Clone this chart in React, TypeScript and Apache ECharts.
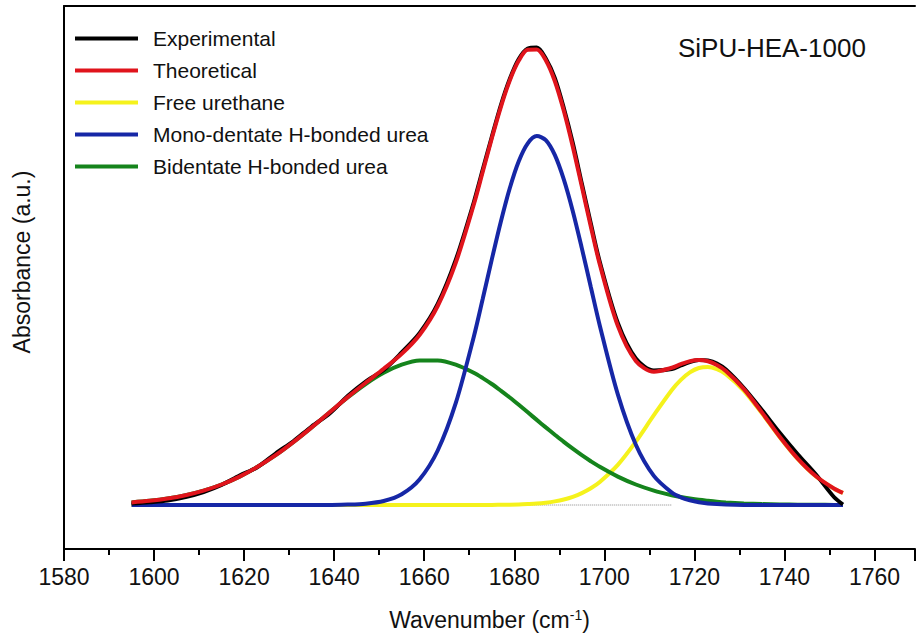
import React, { useEffect, useRef } from 'react';
import * as echarts from 'echarts';

const wavenumbers = [
  1595, 1599, 1603, 1607, 1611, 1615, 1619, 1623, 1627, 1631, 1635, 1639, 1643, 1647, 1651, 1655, 1659, 1663, 1667, 1671,
  1673, 1675, 1677, 1679, 1681, 1683, 1685, 1687, 1689, 1691, 1693, 1695, 1697, 1699,
  1703, 1707, 1711, 1715,
  1717, 1719, 1721, 1723, 1725, 1727,
  1731, 1735, 1739, 1743, 1747, 1751, 1753,
];

const experimental = [
  0.015, 0.028, 0.045, 0.080, 0.130, 0.200, 0.295, 0.380, 0.515, 0.640, 0.785, 0.915, 1.090, 1.235, 1.350, 1.525, 1.720, 2.010, 2.450, 3.025,
  3.355, 3.680, 3.995, 4.260, 4.460, 4.565, 4.575, 4.465, 4.270, 3.970, 3.620, 3.215, 2.815, 2.430,
  1.820, 1.465, 1.345, 1.360,
  1.395, 1.430, 1.450, 1.445, 1.415, 1.355,
  1.170, 0.950, 0.720, 0.505, 0.305, 0.080, 0.005,
];

const theoretical = [
  0.026, 0.042, 0.065, 0.098, 0.144, 0.205, 0.284, 0.382, 0.498, 0.631, 0.776, 0.928, 1.079, 1.223, 1.362, 1.511, 1.703, 1.990, 2.421, 3.002,
  3.332, 3.665, 3.977, 4.245, 4.444, 4.552, 4.554, 4.448, 4.240, 3.942, 3.583, 3.186, 2.785, 2.405,
  1.791, 1.441, 1.333, 1.372,
  1.408, 1.438, 1.449, 1.437, 1.400, 1.340,
  1.159, 0.926, 0.680, 0.461, 0.287, 0.165, 0.121,
];

const freeUrethane = [
  0, 0, 0, 0, 0, 0, 0, 0, 0, 0, 0, 0, 0, 0, 0, 0, 0, 0, 0, 0,
  0.001, 0.001, 0.002, 0.003, 0.005, 0.009, 0.014, 0.023, 0.036, 0.055, 0.082, 0.119, 0.167, 0.230,
  0.401, 0.633, 0.898, 1.150,
  1.251, 1.326, 1.370, 1.380, 1.358, 1.309,
  1.142, 0.916, 0.675, 0.458, 0.285, 0.164, 0.120,
];

const monoUrea = [
  0, 0, 0, 0, 0, 0, 0, 0, 0, 0, 0, 0.001, 0.004, 0.013, 0.040, 0.108, 0.258, 0.545, 1.018, 1.680,
  2.062, 2.454, 2.831, 3.167, 3.437, 3.616, 3.689, 3.649, 3.501, 3.256, 2.938, 2.569, 2.180, 1.793,
  1.106, 0.603, 0.291, 0.124,
  0.077, 0.047, 0.027, 0.016, 0.009, 0.005,
  0.001, 0, 0, 0, 0, 0, 0,
];

const bidentateUrea = [
  0.026, 0.042, 0.065, 0.098, 0.144, 0.205, 0.284, 0.382, 0.498, 0.631, 0.776, 0.927, 1.075, 1.210, 1.322, 1.403, 1.445, 1.445, 1.403, 1.322,
  1.269, 1.210, 1.144, 1.075, 1.002, 0.927, 0.851, 0.776, 0.703, 0.631, 0.563, 0.498, 0.438, 0.382,
  0.284, 0.205, 0.144, 0.098,
  0.080, 0.065, 0.052, 0.042, 0.033, 0.026,
  0.016, 0.009, 0.005, 0.003, 0.002, 0.001, 0.001,
];

const baselineDotsX = [1680, 1715];
const baselineDotsY = [0, 0];

const seriesNames = ['Experimental', 'Theoretical', 'Free urethane', 'Mono-dentate H-bonded urea', 'Bidentate H-bonded urea'];
const xMin = 1580;
const xMax = 1769;
const xMajorStep = 20;
const xMinorStep = 10;

const FONT = "'Liberation Sans', Arial, Helvetica, sans-serif";

function pairs(ys: number[]) {
  return wavenumbers.map((x, i) => [x, ys[i]]);
}

export default function App() {
  const ref = useRef<HTMLDivElement>(null);
  useEffect(() => {
    const chart = echarts.init(ref.current!, null, { renderer: 'svg' });
    const mk = (name: string, data: number[], color: string, z: number) => ({
      name,
      type: 'line',
      xAxisIndex: 0,
      data: pairs(data),
      showSymbol: false,
      symbol: 'none',
      smooth: 0.3,
      z,
      lineStyle: { color, width: 4 },
      itemStyle: { color },
      emphasis: { disabled: true },
    });
    const option: any = {
      animation: false,
      backgroundColor: '#ffffff',
      grid: { left: 64, right: 0, top: 6, bottom: 95, containLabel: false },
      legend: {
        orient: 'vertical',
        left: 70,
        top: 23,
        itemWidth: 63,
        itemHeight: 4,
        itemGap: 11,
        icon: 'rect',
        data: seriesNames,
        textStyle: { fontFamily: FONT, fontSize: 21, color: '#111', padding: [0, 0, 0, 10] },
      },
      xAxis: [
        {
          type: 'value',
          position: 'bottom',
          min: xMin,
          max: xMax,
          interval: xMajorStep,
          name: 'Wavenumber (cm{sup|-1})',
          nameLocation: 'middle',
          nameGap: 59,
          nameTextStyle: {
            fontFamily: FONT,
            fontSize: 23,
            color: '#111',
            rich: { sup: { fontFamily: FONT, fontSize: 14, color: '#111', verticalAlign: 'top', padding: [0, 0, 10, 0] } },
          },
          axisLine: { show: true, onZero: false, lineStyle: { color: '#000', width: 2 } },
          axisTick: { show: true, inside: false, length: 12, lineStyle: { color: '#000', width: 2 } },
          minorTick: { show: false },
          axisLabel: {
            fontFamily: FONT,
            fontSize: 23,
            color: '#111',
            margin: 16,
            formatter: (v: number) => (v % xMajorStep === 0 ? String(v) : ''),
          },
          splitLine: { show: false },
        },
        {
          type: 'value',
          position: 'bottom',
          min: xMin,
          max: xMax,
          interval: xMinorStep,
          axisLine: { show: false, onZero: false },
          axisTick: { show: true, inside: false, length: 6, lineStyle: { color: '#000', width: 2 } },
          axisLabel: { show: false },
          splitLine: { show: false },
        },
        {
          type: 'value',
          position: 'top',
          min: xMin,
          max: xMax,
          axisLine: { show: true, onZero: false, lineStyle: { color: '#000', width: 2 } },
          axisTick: { show: false },
          axisLabel: { show: false },
          splitLine: { show: false },
        },
      ],
      yAxis: {
        type: 'value',
        min: -0.44,
        max: 4.99,
        axisLine: { show: true, onZero: false, lineStyle: { color: '#000', width: 2 } },
        axisTick: { show: false },
        axisLabel: { show: false },
        splitLine: { show: false },
      },
      graphic: [
        {
          type: 'text',
          x: 22,
          y: 262,
          rotation: Math.PI / 2,
          style: { text: 'Absorbance (a.u.)', font: `23px ${FONT}`, fill: '#111', align: 'center', verticalAlign: 'middle' },
        },
        {
          type: 'text',
          x: 678,
          y: 48,
          style: { text: 'SiPU-HEA-1000', font: `26px ${FONT}`, fill: '#111', align: 'left', verticalAlign: 'middle' },
        },
      ],
      series: [
        {
          name: 'baseline',
          type: 'line',
          data: baselineDotsX.map((x, i) => [x, baselineDotsY[i]]),
          showSymbol: false,
          symbol: 'none',
          z: 1,
          lineStyle: { color: '#888', width: 1, type: 'dotted' },
        },
        mk('Free urethane', freeUrethane, '#f5f21c', 2),
        mk('Bidentate H-bonded urea', bidentateUrea, '#15841c', 3),
        mk('Mono-dentate H-bonded urea', monoUrea, '#1627a6', 4),
        mk('Experimental', experimental, '#000000', 5),
        mk('Theoretical', theoretical, '#e0141c', 6),
      ],
    };
    chart.setOption(option);
    return () => chart.dispose();
  }, []);
  return (
    <div
      ref={ref}
      style={{ position: 'fixed', left: 0, top: 0, width: 918, height: 644, background: '#fff' }}
    />
  );
}
